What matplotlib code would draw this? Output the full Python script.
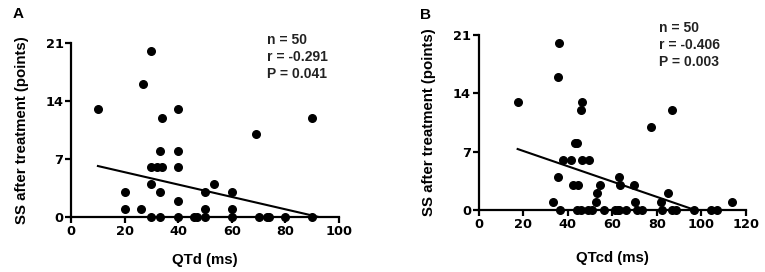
import matplotlib
matplotlib.use("Agg")
import matplotlib.pyplot as plt
import numpy as np

plt.rcParams['font.family'] = ['Liberation Sans', 'DejaVu Sans']

# ── Panel A data: QTd vs SS after treatment ──────────────────────────────────
qtd_x = [10, 40, 30, 27, 34, 90, 69, 33, 40, 30, 32, 34, 40, 30, 53.4,
         20, 33, 50, 60, 40, 20, 26, 50, 60,
         30, 33, 40, 46, 47, 50, 60, 70, 73, 74, 80, 90]
qtd_y = [13, 13, 20, 16, 12, 12, 10, 8, 8, 6, 6, 6, 6, 4, 4,
         3, 3, 3, 3, 2, 1, 1, 1, 1,
         0, 0, 0, 0, 0, 0, 0, 0, 0, 0, 0, 0]
qtd_fit_x = [10, 93]
qtd_fit_y = [6.17, 0.0]
qtd_stats = ["n = 50", "r = -0.291", "P = 0.041"]

# ── Panel B data: QTcd vs SS after treatment ─────────────────────────────────
qtcd_x = [17.5, 36, 35.5, 46.5, 46, 77.4, 86.8, 43.4, 44.3, 37.9, 41.4, 46.4, 49.5,
          35.5, 63.1, 42.2, 44.6, 54.3, 63.4, 69.7, 53.1, 84.8,
          33.2, 52.8, 70.3, 81.7, 113.6,
          36.5, 44.1, 46, 49.2, 51, 56.4, 61.4, 62.4, 63, 66.1, 70.9, 73.3,
          82.1, 86.8, 88.7, 96.7, 104.4, 107.1]
qtcd_y = [13, 20, 16, 13, 12, 10, 12, 8, 8, 6, 6, 6, 6,
          4, 4, 3, 3, 3, 3, 3, 2, 2,
          1, 1, 1, 1, 1,
          0, 0, 0, 0, 0, 0, 0, 0, 0, 0, 0, 0,
          0, 0, 0, 0, 0, 0]
qtcd_fit_x = [17.5, 97.1]
qtcd_fit_y = [7.32, 0.0]
qtcd_stats = ["n = 50", "r = -0.406", "P = 0.003"]

W, H = 765, 272
fig = plt.figure(figsize=(W / 100, H / 100), dpi=100)
axA = fig.add_axes([0.093, 0.201, 0.350, 0.642])
axB = fig.add_axes([0.6257, 0.228, 0.3494, 0.643])

TICKFONT = dict(family="DejaVu Sans", weight="bold", size=9.3)


def style(ax, xmax, xticks, xlabel, xpad):
    ax.set_xlim(0, xmax)
    ax.set_ylim(0, 21)
    ax.set_xticks(xticks)
    ax.set_yticks([0, 7, 14, 21])
    for s in ["top", "right"]:
        ax.spines[s].set_visible(False)
    for s in ["left", "bottom"]:
        ax.spines[s].set_linewidth(1.6)
    ax.tick_params(direction="out", length=4, width=1.6, pad=1.5)
    for lab in ax.get_xticklabels() + ax.get_yticklabels():
        lab.set_fontproperties(TICKFONT)
    ax.set_xlabel(xlabel, fontsize=10.8, fontweight="bold", labelpad=xpad)
    ax.set_ylabel("SS after treatment (points)", fontsize=10.8, fontweight="bold", labelpad=12)


def stats(x_px, y_px, lines):
    for k, line in enumerate(lines):
        fig.text(x_px / W, 1 - (y_px + 17 * k) / H, line, fontsize=10,
                 fontweight="bold", va="center", ha="left", color="#222222")


axA.scatter(qtd_x, qtd_y, s=30, color="black", clip_on=False, zorder=3)
axA.plot(qtd_fit_x, qtd_fit_y, color="black", linewidth=1.5)
style(axA, 100, [0, 20, 40, 60, 80, 100], "QTd (ms)", 11)
stats(267, 40, qtd_stats)
fig.text(13 / W, 1 - 14 / H, "A", fontsize=11, fontweight="bold", va="center")

axB.scatter(qtcd_x, qtcd_y, s=30, color="black", clip_on=False, zorder=3)
axB.plot(qtcd_fit_x, qtcd_fit_y, color="black", linewidth=1.5)
style(axB, 120, [0, 20, 40, 60, 80, 100, 120], "QTcd (ms)", 15)
stats(659, 28, qtcd_stats)
fig.text(420 / W, 1 - 15 / H, "B", fontsize=11, fontweight="bold", va="center")

fig.savefig("out.png", dpi=100)
